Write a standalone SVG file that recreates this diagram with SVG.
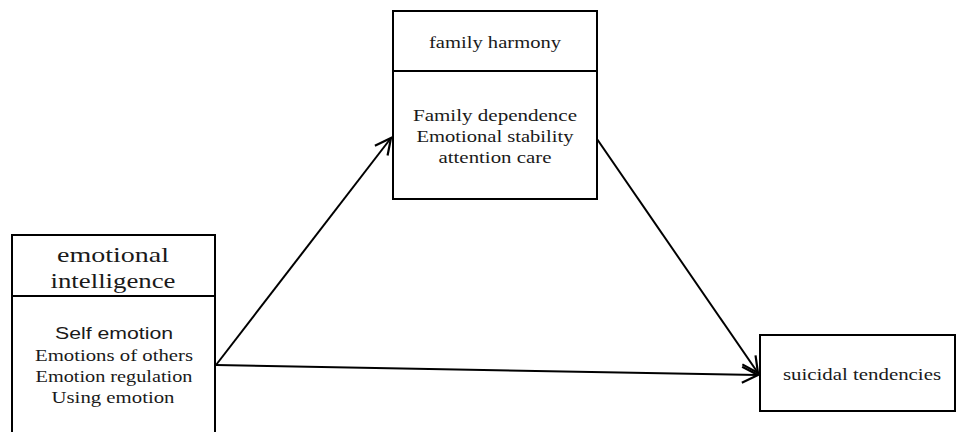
<svg xmlns="http://www.w3.org/2000/svg" width="956" height="432" viewBox="0 0 956 432">
<style>
.box{fill:#fff;stroke:#000;stroke-width:2}
.div{stroke:#000;stroke-width:2}
.s{font-family:'Liberation Serif','DejaVu Serif',serif;fill:#1a1a1a;text-anchor:middle}
.ss{font-family:'Liberation Sans','DejaVu Sans',sans-serif;fill:#1a1a1a;text-anchor:middle}
.con{stroke:#000;stroke-width:2;fill:none;marker-end:url(#arr)}
</style>
<defs>
<marker id="arr" markerUnits="userSpaceOnUse" markerWidth="20" markerHeight="20" viewBox="0 0 20 20" refX="18" refY="10" orient="auto">
<path d="M2,2 L18,10 L2,18" fill="none" stroke="#000" stroke-width="2.2"/>
</marker>
</defs>
<rect width="956" height="432" fill="#fff"/>
<g id="connectors">
<line class="con" x1="216" y1="365" x2="391" y2="138"/>
<line class="con" x1="216" y1="365" x2="758" y2="375"/>
<line class="con" x1="597" y1="139" x2="758" y2="373"/>
</g>
<g id="emotional-intelligence">
<path class="box" d="M12,440 V235 H215 V440"/>
<line class="div" x1="12" y1="296" x2="215" y2="296"/>
<text class="s" x="113" y="262" font-size="22" textLength="112" lengthAdjust="spacingAndGlyphs">emotional</text>
<text class="s" x="113" y="288" font-size="22" textLength="125" lengthAdjust="spacingAndGlyphs">intelligence</text>
<text class="ss" x="114" y="339" font-size="16" textLength="118" lengthAdjust="spacingAndGlyphs">Self emotion</text>
<text class="s" x="114" y="361" font-size="17" textLength="158" lengthAdjust="spacingAndGlyphs">Emotions of others</text>
<text class="s" x="114" y="382" font-size="17" textLength="157" lengthAdjust="spacingAndGlyphs">Emotion regulation</text>
<text class="s" x="113" y="403" font-size="17" textLength="123" lengthAdjust="spacingAndGlyphs">Using emotion</text>
</g>
<g id="family-harmony">
<rect class="box" x="393" y="11" width="204" height="188"/>
<line class="div" x1="393" y1="71" x2="597" y2="71"/>
<text class="s" x="495" y="48" font-size="16" textLength="132" lengthAdjust="spacingAndGlyphs">family  harmony</text>
<text class="s" x="495" y="121" font-size="17" textLength="164" lengthAdjust="spacingAndGlyphs">Family  dependence</text>
<text class="s" x="495" y="142" font-size="17" textLength="157" lengthAdjust="spacingAndGlyphs">Emotional  stability</text>
<text class="s" x="495" y="163" font-size="17" textLength="113" lengthAdjust="spacingAndGlyphs">attention  care</text>
</g>
<g id="suicidal-tendencies">
<rect class="box" x="760" y="335" width="195" height="76"/>
<text class="s" x="862" y="380" font-size="16" textLength="158" lengthAdjust="spacingAndGlyphs">suicidal  tendencies</text>
</g>
</svg>
